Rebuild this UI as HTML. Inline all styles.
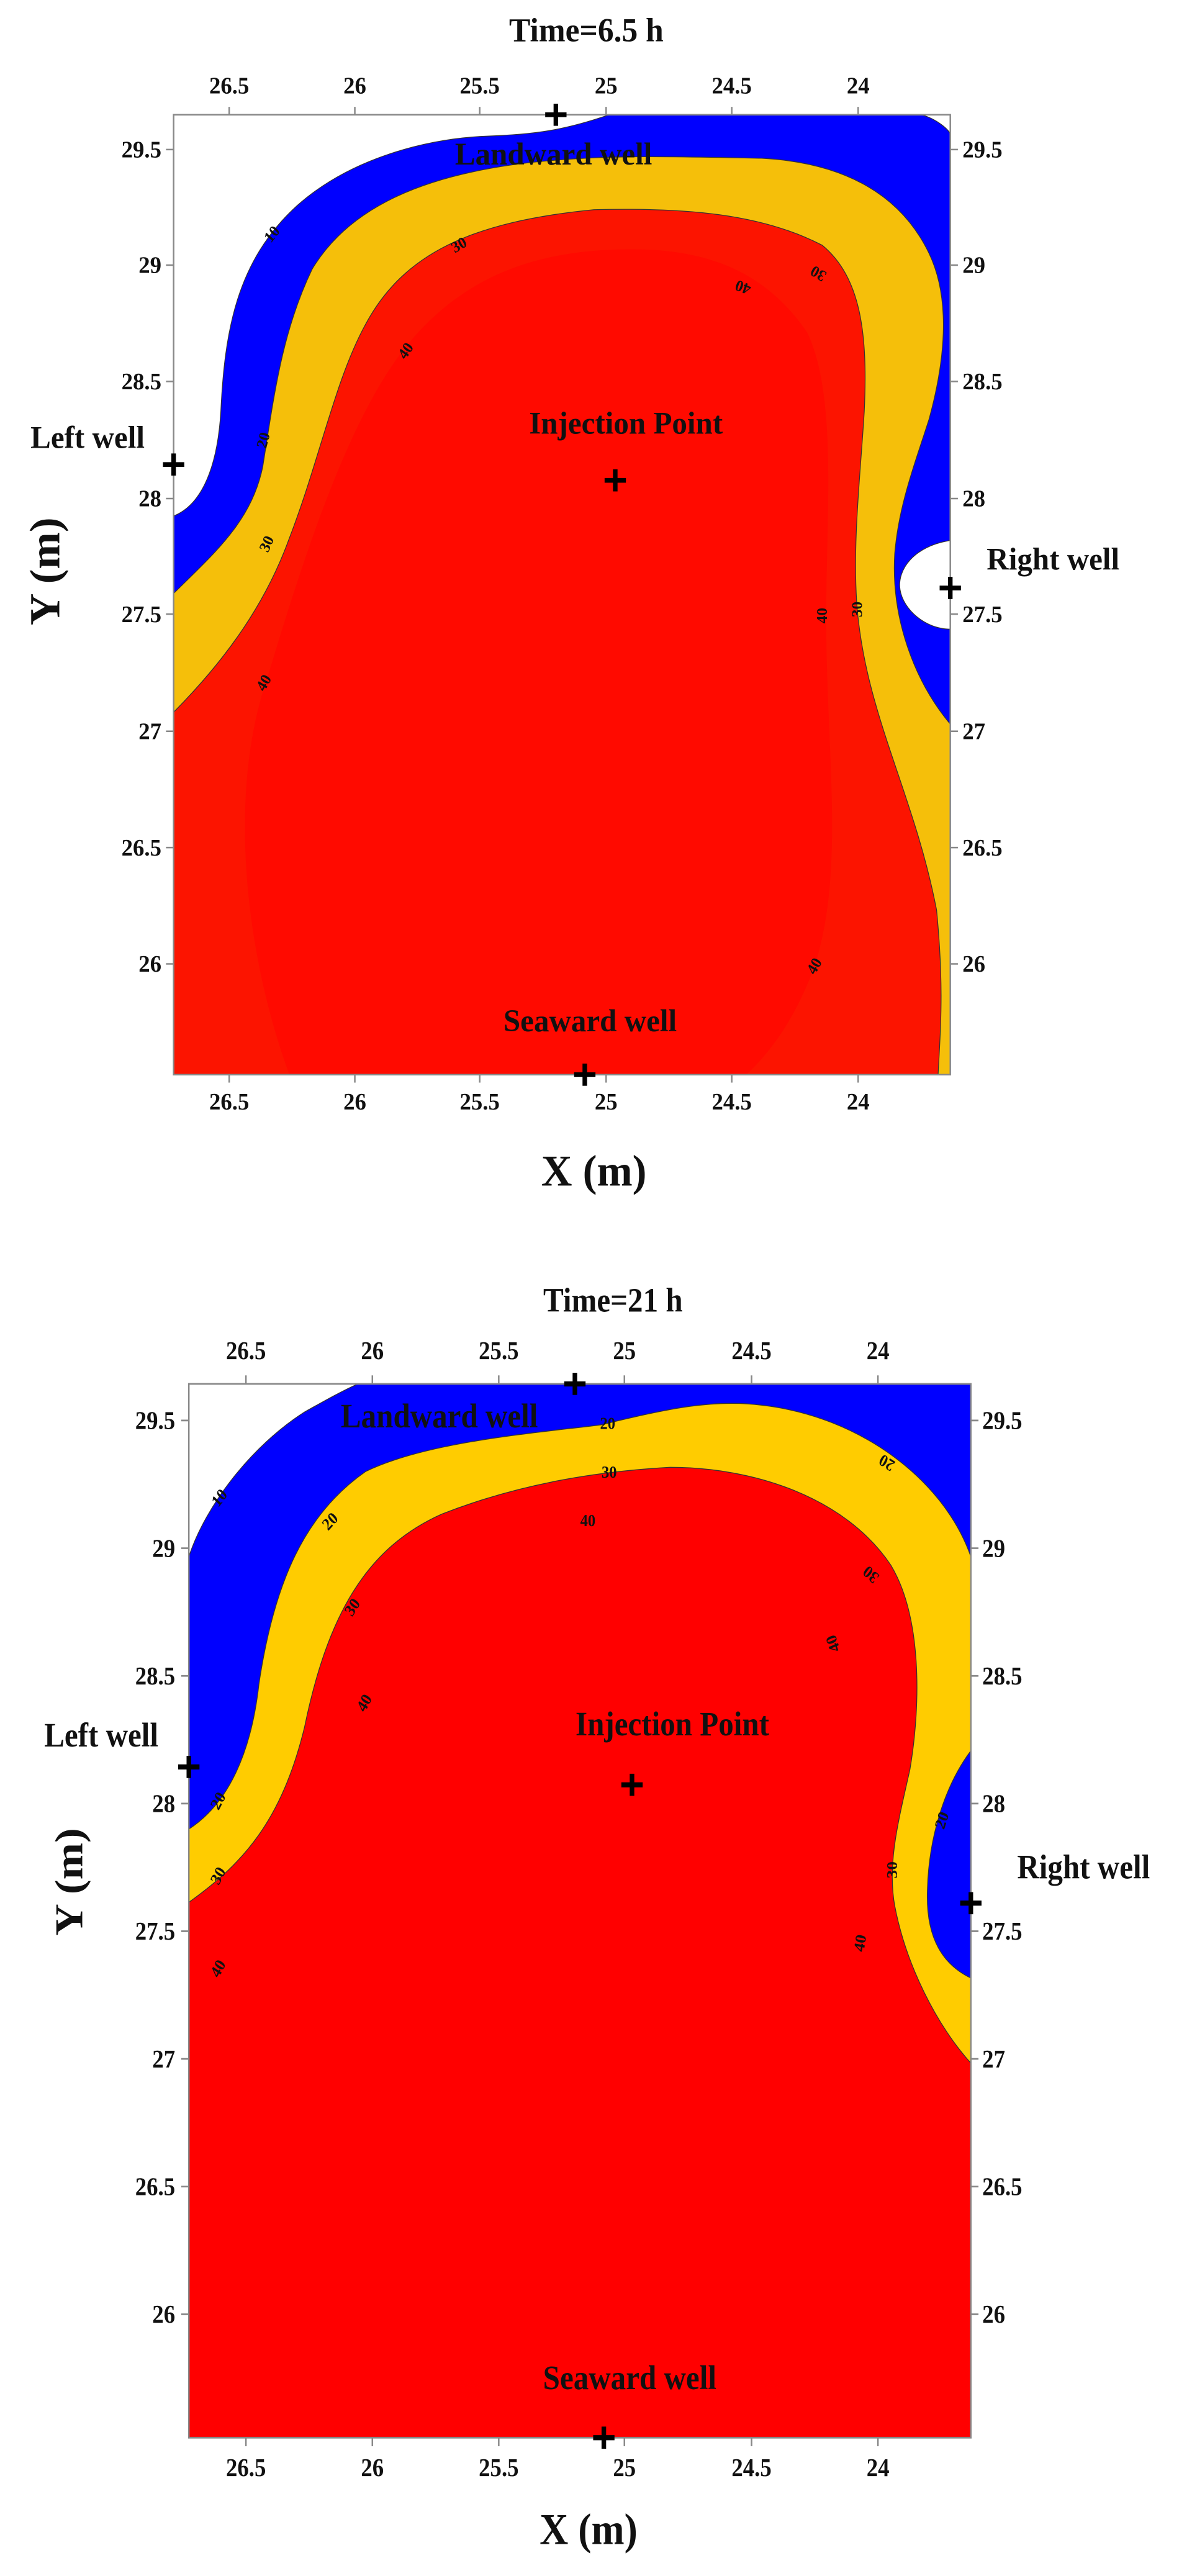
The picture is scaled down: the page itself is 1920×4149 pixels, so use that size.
<!DOCTYPE html>
<html><head><meta charset="utf-8"><style>
html,body{margin:0;padding:0;background:#fff;}
svg{display:block;}
text{font-family:"Liberation Serif",serif;font-weight:bold;fill:#111;}
.t{font-size:30px;}
.cl{font-family:"Liberation Sans",sans-serif;font-weight:normal;font-size:20px;fill:#222;}
.ann{font-size:40px;}
</style></head><body>
<svg width="1920" height="4149" viewBox="0 0 1920 4149" xmlns="http://www.w3.org/2000/svg">
<rect width="1920" height="4149" fill="#fff"/>

<!-- ===== Chart 1 ===== -->
<g transform="scale(1.2265,1.2746)">
  <rect x="228" y="145" width="1020" height="1213" fill="#fff"/>
  <path d="M228,652 C260,640 285,600 290,520 C295,420 310,330 390,260 C460,200 560,175 640,172 C700,170 740,165 800,145 L1210,145 C1230,150 1248,165 1248,170 L1248,683 C1200,690 1178,720 1182,745 C1186,770 1215,795 1248,795 L1248,1358 L228,1358 Z" fill="#0000ff" stroke="#333" stroke-width="1"/>
  <path d="M228,750 C280,700 330,660 345,590 C360,500 370,420 410,340 C460,260 560,220 700,205 C800,195 880,198 1000,200 C1100,205 1180,240 1220,320 C1250,380 1240,460 1220,530 C1200,590 1180,640 1175,700 C1170,780 1200,860 1248,915 L1248,1358 L228,1358 Z" fill="#f5bf0a" stroke="#333" stroke-width="1"/>
  <path d="M228,900 C300,830 350,760 380,680 C420,580 440,480 480,410 C530,320 620,280 780,265 C900,262 1000,270 1080,310 C1130,350 1140,420 1135,520 C1130,600 1120,680 1125,760 C1135,900 1200,1000 1230,1150 C1240,1250 1235,1300 1232,1358 L228,1358 Z" fill="#fc1400" stroke="#333" stroke-width="1"/>
  <path d="M380,1358 C320,1200 300,1000 350,860 C400,700 460,520 540,430 C620,340 720,315 830,315 C940,315 1010,350 1060,420 C1100,500 1085,650 1085,780 C1085,950 1110,1100 1070,1220 C1040,1300 1000,1340 980,1358 Z" fill="#ff0a00"/>
  <rect x="228" y="145" width="1020" height="1213" fill="none" stroke="#888" stroke-width="2"/>
  <g stroke="#888" stroke-width="2">
    <path d="M301,145v-10M466,145v-10M630,145v-10M796,145v-10M961,145v-10M1127,145v-10"/>
    <path d="M301,1358v10M466,1358v10M630,1358v10M796,1358v10M961,1358v10M1127,1358v10"/>
    <path d="M228,189h-10M228,335h-10M228,482h-10M228,630h-10M228,776h-10M228,924h-10M228,1071h-10M228,1218h-10"/>
    <path d="M1248,189h10M1248,335h10M1248,482h10M1248,630h10M1248,776h10M1248,924h10M1248,1071h10M1248,1218h10"/>
  </g>
  <g class="t" text-anchor="middle">
    <text x="301" y="118">26.5</text><text x="466" y="118">26</text><text x="630" y="118">25.5</text><text x="796" y="118">25</text><text x="961" y="118">24.5</text><text x="1127" y="118">24</text>
    <text x="301" y="1402">26.5</text><text x="466" y="1402">26</text><text x="630" y="1402">25.5</text><text x="796" y="1402">25</text><text x="961" y="1402">24.5</text><text x="1127" y="1402">24</text>
  </g>
  <g class="t" text-anchor="end">
    <text x="212" y="199">29.5</text><text x="212" y="345">29</text><text x="212" y="492">28.5</text><text x="212" y="640">28</text><text x="212" y="786">27.5</text><text x="212" y="934">27</text><text x="212" y="1081">26.5</text><text x="212" y="1228">26</text>
  </g>
  <g class="t" text-anchor="start">
    <text x="1264" y="199">29.5</text><text x="1264" y="345">29</text><text x="1264" y="492">28.5</text><text x="1264" y="640">28</text><text x="1264" y="786">27.5</text><text x="1264" y="934">27</text><text x="1264" y="1081">26.5</text><text x="1264" y="1228">26</text>
  </g>
  <text x="770" y="52" text-anchor="middle" style="font-size:42px">Time=6.5 h</text>
  <text x="780" y="1498" text-anchor="middle" style="font-size:56px">X (m)</text>
  <text transform="translate(78,722) rotate(-90)" text-anchor="middle" style="font-size:56px">Y (m)</text>
  <g class="ann" text-anchor="middle">
    <text x="727" y="208">Landward well</text>
    <text x="822" y="548">Injection Point</text>
    <text x="115" y="566">Left well</text>
    <text x="1383" y="720">Right well</text>
    <text x="775" y="1303">Seaward well</text>
  </g>
  <g stroke="#000" stroke-width="6">
    <path d="M716,145h28M730,131v28"/>
    <path d="M794,607h28M808,593v28"/>
    <path d="M214,587h28M228,573v28"/>
    <path d="M1234,743h28M1248,729v28"/>
    <path d="M754,1358h28M768,1344v28"/>
  </g>
  <g class="cl">
    <text transform="translate(362,300) rotate(-50)" text-anchor="middle">10</text>
    <text transform="translate(606,315) rotate(-30)" text-anchor="middle">30</text>
    <text transform="translate(538,447) rotate(-55)" text-anchor="middle">40</text>
    <text transform="translate(352,558) rotate(-75)" text-anchor="middle">20</text>
    <text transform="translate(356,690) rotate(-65)" text-anchor="middle">30</text>
    <text transform="translate(352,866) rotate(-60)" text-anchor="middle">40</text>
    <text transform="translate(978,357) rotate(200)" text-anchor="middle">40</text>
    <text transform="translate(1078,340) rotate(210)" text-anchor="middle">30</text>
    <text transform="translate(1086,778) rotate(-90)" text-anchor="middle">40</text>
    <text transform="translate(1132,770) rotate(-90)" text-anchor="middle">30</text>
    <text transform="translate(1075,1224) rotate(-60)" text-anchor="middle">40</text>
  </g>
</g>

<!-- ===== Chart 2 ===== -->
<g transform="translate(0,2000) scale(1.2265,1.371)">
  <rect x="248" y="167" width="1027" height="1238" fill="#fff"/>
  <path d="M248,370 C270,310 330,240 400,200 C430,185 450,175 470,167 L1275,167 L1275,1405 L248,1405 Z" fill="#0000ff" stroke="#333" stroke-width="1"/>
  <path d="M248,690 C300,660 330,600 340,520 C360,400 400,320 480,270 C560,235 700,225 790,215 C880,195 940,185 1000,192 C1130,205 1240,280 1275,370 L1275,598 C1240,640 1220,700 1218,760 C1215,820 1240,850 1275,865 L1275,1405 L248,1405 Z" fill="#ffcc00" stroke="#333" stroke-width="1"/>
  <path d="M248,776 C320,730 370,680 400,570 C430,440 480,360 580,320 C680,285 780,270 880,265 C990,265 1110,300 1170,380 C1210,440 1210,540 1195,620 C1180,680 1165,730 1175,780 C1190,850 1230,920 1275,965 L1275,1405 L248,1405 Z" fill="#ff0000" stroke="#333" stroke-width="1"/>
  <rect x="248" y="167" width="1027" height="1238" fill="none" stroke="#888" stroke-width="2"/>
  <g stroke="#888" stroke-width="2">
    <path d="M323,167v-10M489,167v-10M655,167v-10M820,167v-10M987,167v-10M1153,167v-10"/>
    <path d="M323,1405v10M489,1405v10M655,1405v10M820,1405v10M987,1405v10M1153,1405v10"/>
    <path d="M248,210h-10M248,360h-10M248,510h-10M248,660h-10M248,810h-10M248,960h-10M248,1110h-10M248,1260h-10"/>
    <path d="M1275,210h10M1275,360h10M1275,510h10M1275,660h10M1275,810h10M1275,960h10M1275,1110h10M1275,1260h10"/>
  </g>
  <g class="t" text-anchor="middle">
    <text x="323" y="138">26.5</text><text x="489" y="138">26</text><text x="655" y="138">25.5</text><text x="820" y="138">25</text><text x="987" y="138">24.5</text><text x="1153" y="138">24</text>
    <text x="323" y="1450">26.5</text><text x="489" y="1450">26</text><text x="655" y="1450">25.5</text><text x="820" y="1450">25</text><text x="987" y="1450">24.5</text><text x="1153" y="1450">24</text>
  </g>
  <g class="t" text-anchor="end">
    <text x="230" y="220">29.5</text><text x="230" y="370">29</text><text x="230" y="520">28.5</text><text x="230" y="670">28</text><text x="230" y="820">27.5</text><text x="230" y="970">27</text><text x="230" y="1120">26.5</text><text x="230" y="1270">26</text>
  </g>
  <g class="t" text-anchor="start">
    <text x="1290" y="220">29.5</text><text x="1290" y="370">29</text><text x="1290" y="520">28.5</text><text x="1290" y="670">28</text><text x="1290" y="820">27.5</text><text x="1290" y="970">27</text><text x="1290" y="1120">26.5</text><text x="1290" y="1270">26</text>
  </g>
  <text x="805" y="82" text-anchor="middle" style="font-size:40px">Time=21 h</text>
  <text x="773" y="1530" text-anchor="middle" style="font-size:52px">X (m)</text>
  <text transform="translate(108,752) rotate(-90)" text-anchor="middle" style="font-size:52px">Y (m)</text>
  <g class="ann" text-anchor="middle">
    <text x="577" y="218">Landward well</text>
    <text x="883" y="580">Injection Point</text>
    <text x="133" y="593">Left well</text>
    <text x="1423" y="748">Right well</text>
    <text x="827" y="1348">Seaward well</text>
  </g>
  <g stroke="#000" stroke-width="6">
    <path d="M741,167h28M755,154v26"/>
    <path d="M816,638h28M830,625v26"/>
    <path d="M234,617h28M248,604v26"/>
    <path d="M1261,777h28M1275,764v26"/>
    <path d="M779,1405h28M793,1392v26"/>
  </g>
  <g class="cl">
    <text transform="translate(293,305) rotate(-50)" text-anchor="middle">10</text>
    <text transform="translate(438,333) rotate(-45)" text-anchor="middle">20</text>
    <text transform="translate(468,433) rotate(-55)" text-anchor="middle">30</text>
    <text transform="translate(484,545) rotate(-60)" text-anchor="middle">40</text>
    <text transform="translate(798,220)" text-anchor="middle">20</text>
    <text transform="translate(800,277)" text-anchor="middle">30</text>
    <text transform="translate(772,334)" text-anchor="middle">40</text>
    <text transform="translate(1168,254) rotate(210)" text-anchor="middle">20</text>
    <text transform="translate(1148,386) rotate(220)" text-anchor="middle">30</text>
    <text transform="translate(1100,470) rotate(250)" text-anchor="middle">40</text>
    <text transform="translate(292,660) rotate(-60)" text-anchor="middle">20</text>
    <text transform="translate(292,748) rotate(-60)" text-anchor="middle">30</text>
    <text transform="translate(292,857) rotate(-60)" text-anchor="middle">40</text>
    <text transform="translate(1243,682) rotate(-70)" text-anchor="middle">20</text>
    <text transform="translate(1178,738) rotate(-90)" text-anchor="middle">30</text>
    <text transform="translate(1136,825) rotate(-80)" text-anchor="middle">40</text>
  </g>
</g>
</svg>
</body></html>
